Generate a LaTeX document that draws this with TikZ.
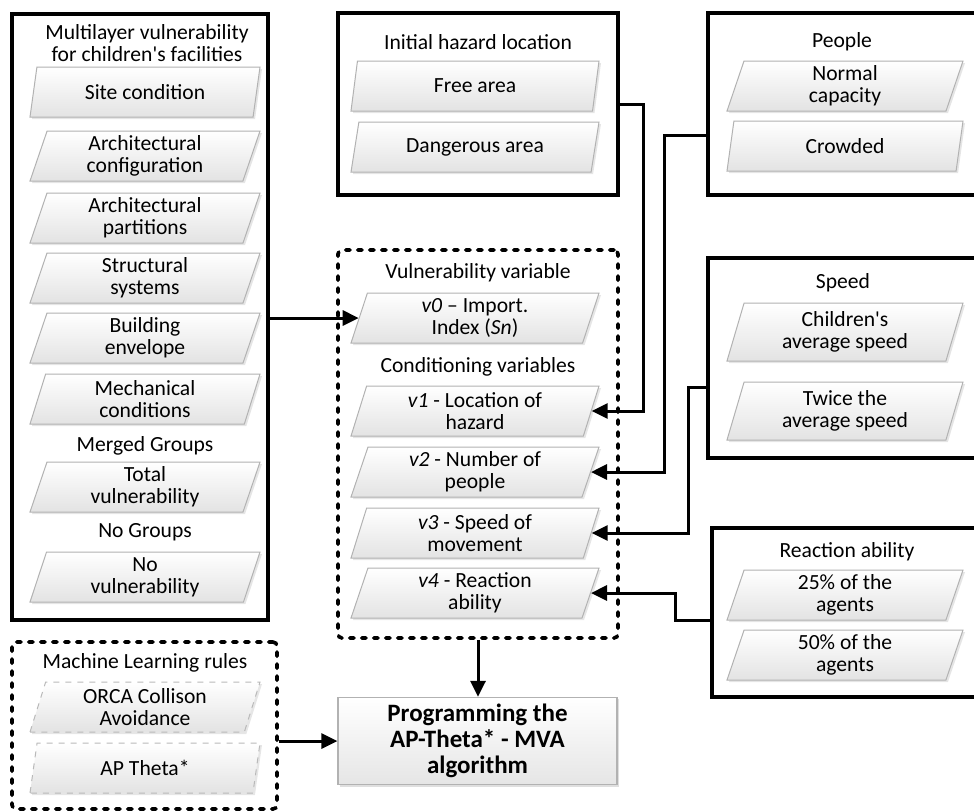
\documentclass[tikz,border=0pt]{standalone}
\usepackage{fontspec}
\setmainfont{Carlito}
\usetikzlibrary{shapes.geometric, arrows.meta, shadows}

\begin{document}
\begin{tikzpicture}[x=0.5pt, y=-0.5pt,
  every node/.style={font=\fontsize{10.8}{10.8}\selectfont, align=center},
  groupbox/.style={draw, line width=1.7pt, fill=white,
    drop shadow={shadow xshift=1pt, shadow yshift=-1pt, opacity=0.25}},
  varbox/.style={draw, line width=1.8pt, line cap=round,
    dash pattern=on 2.2pt off 3.8pt, rounded corners=2pt},
  optbox/.style={trapezium, trapezium left angle=68, trapezium right angle=112,
    trapezium stretches body, draw=gray!60, line width=0.5pt,
    top color=white, bottom color=gray!22, inner sep=0.5pt,
    minimum width=115pt, minimum height=25pt,
    drop shadow={shadow xshift=1pt, shadow yshift=-1pt, opacity=0.2}},
  mlbox/.style={optbox, dashed, draw=gray!55},
  progbox/.style={draw=gray!60, line width=0.6pt, top color=white, bottom color=gray!20,
    drop shadow={shadow xshift=1pt, shadow yshift=-1pt, opacity=0.25},
    font=\bfseries\fontsize{12.5}{13}\selectfont},
  arr/.style={line width=1.5pt, -{Triangle[length=8pt, width=7.5pt]}}
]
\path[use as bounding box, clip] (0,0) rectangle (974,811);

% multilayer vulnerability
\node[groupbox, minimum width=128pt, minimum height=303pt] (multi) at (140,317) {};
\node (multititle) at (147,43) {Multilayer vulnerability\\for children\textquotesingle s facilities};
\node[optbox] (site) at (145,92) {Site condition};
\node[optbox] (archconf) at (145,156) {Architectural\\configuration};
\node[optbox] (archpart) at (145,218) {Architectural\\partitions};
\node[optbox] (struct) at (145,278) {Structural\\systems};
\node[optbox] (envelope) at (145,338) {Building\\envelope};
\node[optbox] (mech) at (145,399) {Mechanical\\conditions};
\node (merged) at (145,446) {Merged Groups};
\node[optbox] (total) at (145,487) {Total\\vulnerability};
\node (nogroups) at (145,532) {No Groups};
\node[optbox] (novuln) at (145,577) {No\\vulnerability};

% machine learning
\node[varbox, minimum width=132.5pt, minimum height=83.5pt] (ml) at (144.5,725.5) {};
\node (mltitle) at (145,663) {Machine Learning rules};
\node[mlbox] (orca) at (145,707) {ORCA Collison\\Avoidance};
\node[mlbox] (aptheta) at (145,768) {AP Theta*};

% hazard
\node[groupbox, minimum width=140pt, minimum height=91pt] (hazard) at (478,104) {};
\node (hazardtitle) at (478,42) {Initial hazard location};
\node[optbox, minimum width=124pt] (free) at (475,86) {Free area};
\node[optbox, minimum width=124pt] (danger) at (475,147) {Dangerous area};

% variables
\node[varbox, minimum width=140pt, minimum height=194pt] (vars) at (478,444) {};
\node (vartitle) at (478,273) {Vulnerability variable};
\node[optbox, minimum width=124pt] (v0) at (475,318) {\textit{v0} -- Import.\\Index (\textit{Sn})};
\node (condtitle) at (478,367) {Conditioning variables};
\node[optbox, minimum width=124pt] (v1) at (475,411) {\textit{v1} - Location of\\hazard};
\node[optbox, minimum width=124pt] (v2) at (475,472) {\textit{v2} - Number of\\people};
\node[optbox, minimum width=124pt] (v3) at (475,533) {\textit{v3} - Speed of\\movement};
\node[optbox, minimum width=124pt] (v4) at (475,593) {\textit{v4} - Reaction\\ability};

% people
\node[groupbox, minimum width=141pt, minimum height=91pt] (people) at (849,104) {};
\node (peopletitle) at (842,42) {People};
\node[optbox, minimum width=118pt] (normal) at (845,86) {Normal\\capacity};
\node[optbox, minimum width=118pt] (crowded) at (845,146) {Crowded};

% speed
\node[groupbox, minimum width=141pt, minimum height=100pt] (speed) at (849,358) {};
\node (speedtitle) at (843,283) {Speed};
\node[optbox, minimum width=118pt, minimum height=29pt] (avgspeed) at (845,332) {Children\textquotesingle s\\average speed};
\node[optbox, minimum width=118pt, minimum height=29pt] (twice) at (845,411) {Twice the\\average speed};

% reaction
\node[groupbox, minimum width=139pt, minimum height=84.5pt] (react) at (851,612.5) {};
\node (reacttitle) at (847,552) {Reaction ability};
\node[optbox, minimum width=118pt] (quarter) at (845,595) {25\% of the\\agents};
\node[optbox, minimum width=118pt] (half) at (845,655) {50\% of the\\agents};

% programming
\node[progbox, minimum width=139.5pt, minimum height=40pt] (prog) at (477.5,741) {Programming the\\AP-Theta* - MVA\\algorithm};

\draw[arr] (multi.east |- v0.west) -- (v0.west);
\draw[arr] (hazard.east) -- ++(24,0) |- (v1.east);
\draw[arr] ([yshift=-15.5pt]people.west) -- ++(-42,0) |- (v2.east);
\draw[arr] ([yshift=-14.5pt]speed.west) -- ++(-18,0) |- (v3.east);
\draw[arr] ([yshift=-3.75pt]react.west) -- ++(-35,0) |- (v4.east);
\draw[arr] (vars.south) -- (vars.south |- prog.north);
\draw[arr] (ml.east |- prog.west) -- (prog.west);
\end{tikzpicture}
\end{document}
